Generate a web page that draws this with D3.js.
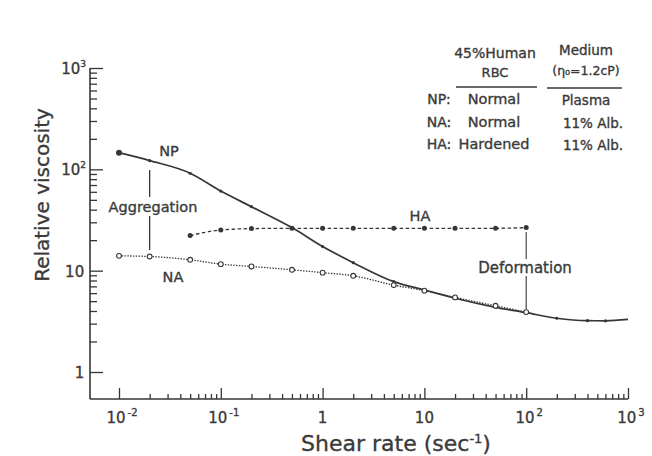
<!DOCTYPE html>
<html>
<head>
<meta charset="utf-8">
<script src="https://cdn.jsdelivr.net/npm/d3@7"></script>
<style>
  html, body { margin: 0; padding: 0; background: #fff; }
  svg { display: block; }
  text { font-family: "DejaVu Sans", "Noto Sans", sans-serif; fill: #3a3a3a; stroke: #3a3a3a; stroke-width: 0.35px; }
</style>
</head>
<body>
<svg id="chart" width="652" height="456"></svg>
<script>
// ---- data ----
const npShear = [0.01, 0.02, 0.05, 0.1, 0.2, 0.5, 1, 2, 5, 10, 20, 50, 100, 200, 400, 600, 1000];
const npVisc  = [146, 122, 91.5, 61, 42.8, 26.6, 17.3, 12.0, 7.8, 6.45, 5.34, 4.35, 3.85, 3.39, 3.21, 3.2, 3.3];
const npMarked = [true, true, true, true, true, true, true, true, true, true, true, true, true, true, true, true, false];

const naShear = [0.01, 0.02, 0.05, 0.1, 0.2, 0.5, 1, 2, 5, 10, 20, 50, 100];
const naVisc  = [14.0, 13.8, 12.8, 11.6, 11.0, 10.2, 9.56, 8.9, 7.2, 6.35, 5.45, 4.5, 3.9];

const haShear = [0.05, 0.1, 0.2, 0.5, 1, 2, 5, 10, 20, 50, 100];
const haVisc  = [22.2, 25.2, 26.0, 26.2, 26.2, 26.2, 26.2, 26.2, 26.2, 26.2, 26.6];

const xTickValues = [0.01, 0.1, 1, 10, 100, 1000];
const xTickLabels = [["10", "-2"], ["10", "-1"], ["1", ""], ["10", ""], ["10", "2"], ["10", "3"]];
const yTickValues = [1, 10, 100, 1000];
const yTickLabels = [["1", ""], ["10", ""], ["10", "2"], ["10", "3"]];

const legendHeader = [["45%Human", "RBC"], ["Medium", "(η\u2080=1.2cP)"]];
const legendRows = [["NP:", "Normal", "Plasma"], ["NA:", "Normal", "11% Alb."], ["HA:", "Hardened", "11% Alb."]];

// ---- layout ----
const svg = d3.select("#chart");
const ink = "#363636";
const x = d3.scaleLog().domain([0.01, 1000]).range([119, 628]);
const y = d3.scaleLog().domain([1, 1000]).range([372, 68]);
const originX = 90, originY = 399;

svg.append("rect").attr("width", 652).attr("height", 456).attr("fill", "#fff");

// axis lines
svg.append("line").attr("x1", originX).attr("x2", x(1000)).attr("y1", originY).attr("y2", originY)
  .attr("stroke", ink).attr("stroke-width", 1.6);
svg.append("line").attr("x1", originX).attr("x2", originX).attr("y1", originY).attr("y2", y(1000))
  .attr("stroke", ink).attr("stroke-width", 1.6);

// minor ticks
const minorX = [];
for (let d = 0.01; d < 1000; d *= 10) for (let k = 2; k <= 9; k++) minorX.push(d * k);
const minorY = [];
for (let d = 1; d < 1000; d *= 10) for (let k = 2; k <= 9; k++) minorY.push(d * k);

const gx = svg.append("g").attr("transform", `translate(0,${originY})`);
gx.call(d3.axisBottom(x).tickValues(minorX).tickSize(-5).tickFormat(""));
gx.append("g").call(d3.axisBottom(x).tickValues(xTickValues).tickSize(-11).tickFormat(""));
gx.selectAll(".domain").remove();
gx.selectAll("line").attr("stroke", ink).attr("stroke-width", 1.3);

const gy = svg.append("g").attr("transform", `translate(${originX},0)`);
gy.call(d3.axisLeft(y).tickValues(minorY).tickSize(-7).tickFormat(""));
gy.append("g").call(d3.axisLeft(y).tickValues(yTickValues).tickSize(-13).tickFormat(""));
gy.selectAll(".domain").remove();
gy.selectAll("line").attr("stroke", ink).attr("stroke-width", 1.3);

// tick labels
xTickValues.forEach((v, i) => {
  const t = svg.append("text").attr("x", x(v) + (xTickLabels[i][1] ? 3 : 0)).attr("y", originY + 24)
    .attr("text-anchor", "middle").attr("font-size", 15);
  t.append("tspan").text(xTickLabels[i][0]);
  if (xTickLabels[i][1]) t.append("tspan").attr("dx", 2).attr("dy", -7).attr("font-size", 10).text(xTickLabels[i][1]);
});
yTickValues.forEach((v, i) => {
  const t = svg.append("text").attr("x", originX - 4).attr("y", y(v) + 6)
    .attr("text-anchor", "end").attr("font-size", 15);
  t.append("tspan").text(yTickLabels[i][0]);
  if (yTickLabels[i][1]) t.append("tspan").attr("dy", -7).attr("font-size", 9).text(yTickLabels[i][1]);
  else t.append("tspan").attr("font-size", 9).text("\u2009");
});

// axis titles
const xt = svg.append("text").attr("x", 396).attr("y", 451).attr("text-anchor", "middle")
  .attr("font-size", 22);
xt.append("tspan").text("Shear rate (sec");
xt.append("tspan").attr("dy", -8).attr("font-size", 13).text("-1");
xt.append("tspan").attr("dy", 8).text(")");
svg.append("text").attr("transform", "translate(49,195) rotate(-90)").attr("text-anchor", "middle")
  .attr("font-size", 20).text("Relative viscosity");

// curves
const line = d3.line().x(d => x(d[0])).y(d => y(d[1])).curve(d3.curveMonotoneX);
const np = npShear.map((s, i) => [s, npVisc[i]]);
const na = naShear.map((s, i) => [s, naVisc[i]]);
const ha = haShear.map((s, i) => [s, haVisc[i]]);

svg.append("path").datum(na).attr("d", line).attr("fill", "none").attr("stroke", ink)
  .attr("stroke-width", 1.3).attr("stroke-dasharray", "1.4,1.4");
svg.append("path").datum(ha).attr("d", line).attr("fill", "none").attr("stroke", ink)
  .attr("stroke-width", 1.3).attr("stroke-dasharray", "3.5,2.5");
svg.append("path").datum(np).attr("d", line).attr("fill", "none").attr("stroke", ink)
  .attr("stroke-width", 1.7);

svg.selectAll(".np-pt").data(np.filter((d, i) => npMarked[i])).join("circle")
  .attr("cx", d => x(d[0])).attr("cy", d => y(d[1]))
  .attr("r", (d, i) => i === 0 ? 3 : 1.6).attr("fill", ink);
svg.selectAll(".ha-pt").data(ha).join("circle").attr("class", "ha-pt")
  .attr("cx", d => x(d[0])).attr("cy", d => y(d[1]))
  .attr("r", 2.5).attr("fill", ink);
svg.selectAll(".na-pt").data(na).join("circle").attr("class", "na-pt")
  .attr("cx", d => x(d[0])).attr("cy", d => y(d[1]))
  .attr("r", 2.4).attr("fill", "#fff").attr("stroke", ink).attr("stroke-width", 1.1);

// annotations
const annFont = 14.5;
svg.append("text").attr("x", 169).attr("y", 156).attr("text-anchor", "middle").attr("font-size", annFont).text("NP");
svg.append("text").attr("x", 173).attr("y", 282).attr("text-anchor", "middle").attr("font-size", annFont).text("NA");
svg.append("text").attr("x", 420).attr("y", 221).attr("text-anchor", "middle").attr("font-size", annFont).text("HA");

const aggX = x(0.02);
svg.append("line").attr("x1", aggX).attr("x2", aggX).attr("y1", 170).attr("y2", 197).attr("stroke", ink).attr("stroke-width", 1.3);
svg.append("line").attr("x1", aggX).attr("x2", aggX).attr("y1", 216).attr("y2", 250).attr("stroke", ink).attr("stroke-width", 1.3);
svg.append("text").attr("x", 153).attr("y", 212).attr("text-anchor", "middle").attr("font-size", annFont).text("Aggregation");

const defX = x(100);
svg.append("line").attr("x1", defX).attr("x2", defX).attr("y1", 232).attr("y2", 259).attr("stroke", ink).attr("stroke-width", 1.1);
svg.append("line").attr("x1", defX).attr("x2", defX).attr("y1", 276).attr("y2", 309).attr("stroke", ink).attr("stroke-width", 1.1);
svg.append("text").attr("x", 525).attr("y", 273).attr("text-anchor", "middle").attr("font-size", 15).text("Deformation");

// legend table
const colX = [439, 495, 586];
svg.append("text").attr("x", colX[1]).attr("y", 58).attr("text-anchor", "middle").attr("font-size", 14).text(legendHeader[0][0]);
svg.append("text").attr("x", colX[1]).attr("y", 77).attr("text-anchor", "middle").attr("font-size", 13).text(legendHeader[0][1]);
svg.append("text").attr("x", colX[2]).attr("y", 55).attr("text-anchor", "middle").attr("font-size", 13.5).text(legendHeader[1][0]);
svg.append("text").attr("x", colX[2]).attr("y", 75).attr("text-anchor", "middle").attr("font-size", 12.5).text(legendHeader[1][1]);
svg.append("line").attr("x1", 456).attr("x2", 537).attr("y1", 87).attr("y2", 87).attr("stroke", ink).attr("stroke-width", 1.4);
svg.append("line").attr("x1", 547).attr("x2", 622).attr("y1", 88).attr("y2", 88).attr("stroke", ink).attr("stroke-width", 1.4);
legendRows.forEach((r, i) => {
  const yy = 104 + i * 22.5;
  svg.append("text").attr("x", colX[0]).attr("y", yy).attr("text-anchor", "middle").attr("font-size", 14).text(r[0]);
  svg.append("text").attr("x", colX[1] - 1).attr("y", yy).attr("text-anchor", "middle").attr("font-size", 14.5).text(r[1]);
  svg.append("text").attr("x", colX[2] + (i === 0 ? 0 : 7)).attr("y", yy + 1).attr("text-anchor", "middle").attr("font-size", 13.5).text(r[2]);
});
</script>
</body>
</html>
